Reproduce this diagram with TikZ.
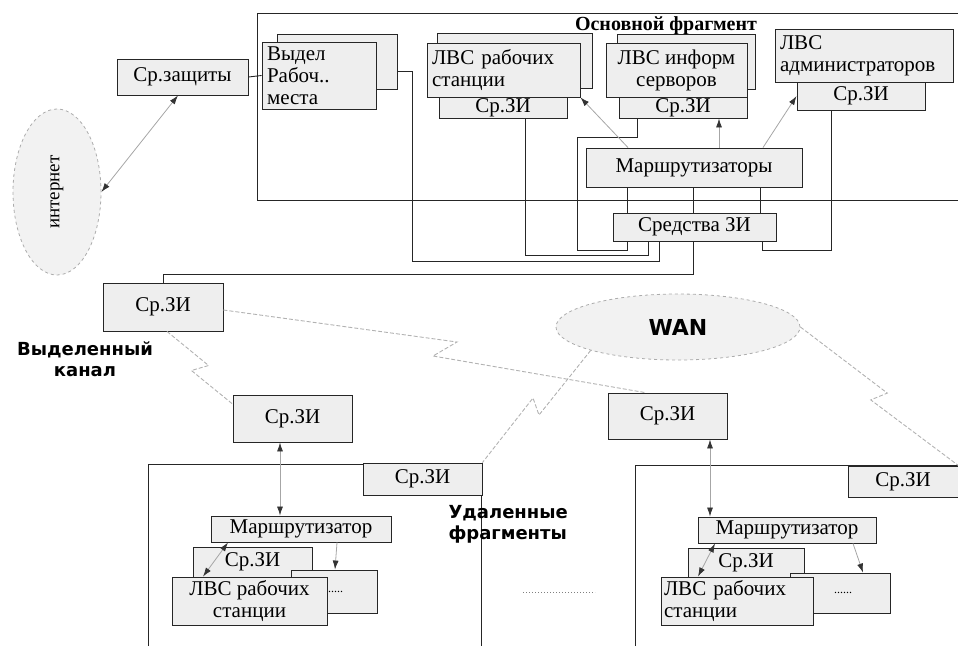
\documentclass[tikz,border=0pt]{standalone}
\usepackage{fontspec}
\usepackage{graphicx}
\setmainfont{Liberation Serif}
\newfontfamily\labelsans{DejaVu Sans}
\usetikzlibrary{shapes.geometric,arrows.meta}

\newcommand\boxfont{\fontsize{21}{22}\selectfont}

\tikzset{
  box/.style={draw=black!85, fill=gray!13, line width=0.9pt, inner sep=3pt, font=\boxfont},
  wire/.style={draw=black!85, line width=0.9pt},
  cloud/.style={ellipse, draw=gray!65, dashed, fill=gray!10, line width=0.8pt, inner sep=0pt},
  arr/.style={draw=gray!70, line width=0.8pt, -{Latex[length=9pt,width=6pt,color=black!80]}},
  arrtwo/.style={draw=gray!70, line width=0.8pt, {Latex[length=9pt,width=6pt,color=black!80]}-{Latex[length=9pt,width=6pt,color=black!80]}},
  link/.style={draw=gray!60, line width=0.9pt, dash pattern=on 4pt off 2pt},
  heading/.style={font=\labelsans\bfseries\fontsize{18}{21}\selectfont},
  dotsbox/.style={box, font=\fontsize{12}{12}\selectfont}
}

\begin{document}
\begin{tikzpicture}[x=1pt,y=-1pt]
\useasboundingbox (0,0) rectangle (958,646);

% ---------- main fragment ----------
\draw[wire] (958,13) -| (257,200) -- (958,200);
\node[font=\bfseries\fontsize{20}{22}\selectfont] (mainttl) at (666,26) {Основной фрагмент};

\node[box, minimum width=131pt, minimum height=36pt] (zash) at (182.5,77) {Ср.защиты};

\node[box, minimum width=120pt, minimum height=55pt] (vydB) at (337,61.5) {};
\node[box, minimum width=114pt, minimum height=67pt, text width=104pt, align=left, inner xsep=5pt] (vyd) at (319,75.5) {Выдел\\Рабоч..\\места};

\node[box, minimum width=155pt, minimum height=55pt] (lvsB) at (514.5,60.5) {};
\node[box, minimum width=153pt, minimum height=54pt, text width=143pt, align=left, inner xsep=5pt] (lvs) at (503.5,70) {ЛВС рабочих\\станции};
\node[box, minimum width=128pt, minimum height=21pt, inner sep=0pt] (lvsZ) at (503,107.5) {Ср.ЗИ};

\node[box, minimum width=138pt, minimum height=55pt] (infB) at (686,61.5) {};
\node[box, minimum width=141pt, minimum height=54pt, align=center] (inf) at (676.5,70) {ЛВС информ\\серворов};
\node[box, minimum width=128pt, minimum height=21pt, inner sep=0pt] (infZ) at (683,107.5) {Ср.ЗИ};

\node[box, minimum width=128pt, minimum height=28pt] (admZ) at (861,96) {Ср.ЗИ};
\node[box, minimum width=178pt, minimum height=53pt, text width=168pt, align=left, inner xsep=5pt] (adm) at (864,55.5) {ЛВС\\администраторов};

\node[box, minimum width=216pt, minimum height=39pt] (mar) at (694,167.5) {Маршрутизаторы};
\node[box, minimum width=163pt, minimum height=28pt] (sred) at (694.5,227) {Средства ЗИ};

% wiring inside the main fragment
\draw[wire] (zash.east) -- (vyd.west);
\draw[wire] (vydB.east |- 0,71) -- (412,71) -- (412,261) -- (659,261) -- (sred.south -| 659,0);
\draw[wire] (lvsZ.south -| 525,0) -- (525,255) -- (648,255) -- (sred.south -| 648,0);
\draw[wire] (infZ.south -| 637,0) -- (637,137) -- (577,137) -- (577,250) -- (627,250) -- (sred.south -| 627,0);
\draw[wire] (admZ.south -| 831,0) -- (831,250) -- (762,250) -- (sred.south -| 762,0);
\foreach \xx in {627,693,760}
  \draw[wire] (mar.south -| \xx,0) -- (sred.north -| \xx,0);

\draw[arr] (mar.north -| 628,0) -- (lvs.south east);
\draw[arr] (mar.north -| 719,0) -- (infZ.south -| 719,0);
\draw[arr] (mar.north -| 763,0) -- (admZ.west);

% ---------- internet ----------
\node[cloud, minimum width=88pt, minimum height=166pt] (inet) at (57,192)
  {\rotatebox{90}{\fontsize{19}{20}\selectfont интернет}};
\draw[arrtwo] (zash.south -| 178,0) -- (inet.east);

% ---------- channels ----------
\node[box, minimum width=120pt, minimum height=48pt] (srL) at (163,307) {Ср.ЗИ};
\draw[wire] (sred.south -| 693,0) -- (693,274) -- (163,274) -- (srL.north -| 163,0);
\node[heading, align=center] (kanal) at (85,359) {Выделенный\\канал};

\node[cloud, minimum width=244pt, minimum height=66pt] (wan) at (678,327)
  {\labelsans\bfseries\fontsize{22}{24}\selectfont WAN};

% ---------- remote fragment, left ----------
\draw[wire] (148,646) |- (481,464) -- (481,646);
\node[box, minimum width=119pt, minimum height=47pt] (lsz) at (292.5,418.5) {Ср.ЗИ};
\node[box, minimum width=119pt, minimum height=32pt] (lcz) at (422.5,479) {Ср.ЗИ};
\node[box, minimum width=180pt, minimum height=26pt, inner sep=0pt] (lmar) at (301,529) {Маршрутизатор};
\node[box, minimum width=119pt, minimum height=30pt, inner sep=0pt] (lszi) at (252.5,562) {Ср.ЗИ};
\node[dotsbox, minimum width=86pt, minimum height=43pt] (ldots) at (334,591.5) {......};
\node[box, minimum width=155pt, minimum height=48pt, align=center, inner sep=0pt] (llvs) at (249.5,601) {ЛВС рабочих\\станции};

\draw[arrtwo] (lsz.south -| 280,0) -- (lmar.north -| 280,0);
\draw[arrtwo] (lmar.south -| 228,0) -- (llvs.north -| 203,0);
\draw[arr] (lmar.south -| 337,0) -- (ldots.north -| 335,0);

\node[heading, align=left, anchor=west] (udal) at (445,524) {Удаленные\\фрагменты};
\coordinate (gapA) at (523,592);
\coordinate (gapB) at (595,592);
\draw[gray, line width=1pt, dotted] (gapA) -- (gapB);

% ---------- remote fragment, right ----------
\draw[wire] (635,646) |- (958,465);
\node[box, minimum width=119pt, minimum height=46pt] (rsz) at (667.5,416) {Ср.ЗИ};
\node[box, minimum width=110pt, minimum height=31pt] (rcz) at (903,481.5) {Ср.ЗИ};
\node[box, minimum width=178pt, minimum height=26pt, inner sep=0pt] (rmar) at (787,530) {Маршрутизатор};
\node[box, minimum width=116pt, minimum height=29pt, inner sep=0pt] (rszi) at (746,562.5) {Ср.ЗИ};
\node[dotsbox, minimum width=100pt, minimum height=40pt] (rdots) at (840,593) {\hspace*{6pt}......};
\node[box, minimum width=152pt, minimum height=48pt, text width=146pt, align=left, inner xsep=3pt] (rlvs) at (737,601) {ЛВС рабочих\\станции};

\draw[arrtwo] (rsz.south -| 710,0) -- (rmar.north -| 710,0);
\draw[arrtwo] (rmar.south -| 715,0) -- (rlvs.north -| 698,0);
\draw[arr] (rmar.south -| 853,0) -- (rdots.north -| 863,0);

% ---------- dedicated and WAN links ----------
\draw[link] (srL.south -| 167,0) -- (208.6,365.5) -- (191.4,370.5) -- (lsz.west |- 0,404);
\draw[link] (srL.east |- 0,310) -- (457,342) -- (433,356) -- (rsz.north -| 645,0);
\draw[link] (wan.195) -- (539,415) -- (533,398) -- (lcz.north east);
\draw[link] (wan.east) -- (887.3,393.1) -- (870.7,399.9) -- (rcz.north east);

\end{tikzpicture}
\end{document}
